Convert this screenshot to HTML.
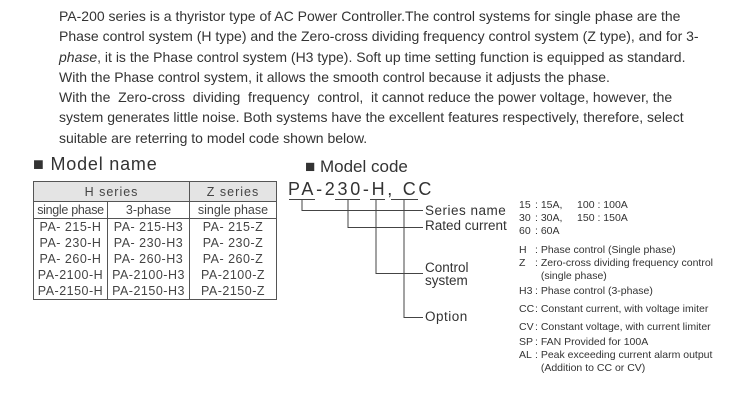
<!DOCTYPE html>
<html><head><style>
body{margin:0;width:738px;height:401px;background:#fff;position:relative;overflow:hidden;font-family:"Liberation Sans",sans-serif;color:#333}
.p{position:absolute;left:59px;top:6px;font-size:14px;line-height:20.3px;width:660px;white-space:nowrap}
.a{position:absolute;white-space:nowrap}
table{position:absolute;left:33px;top:181px;border-collapse:collapse;font-size:12.5px;color:#444}
td{border:1px solid #555;text-align:center;padding:0;height:16px;line-height:16px}
td.n{border-top:none;border-bottom:none;letter-spacing:0.5px}
.r{position:absolute;left:519px;font-size:10.5px;color:#333;white-space:nowrap}
.r b{font-weight:normal;display:inline-block;width:16px}
</style></head><body>
<div class="p">PA-200 series is a thyristor type of AC Power Controller.The control systems for single phase are the<br>Phase control system (H type) and the Zero-cross dividing frequency control system (Z type), and for 3-<br><i>phase</i>, it is the Phase control system (H3 type). Soft up time setting function is equipped as standard.<br>With the Phase control system, it allows the smooth control because it adjusts the phase.<br>With the&nbsp; Zero-cross&nbsp; dividing&nbsp; frequency&nbsp; control,&nbsp; it cannot reduce the power voltage, however, the<br>system generates little noise. Both systems have the excellent features respectively, therefore, select<br>suitable are reterring to model code shown below.</div>

<div class="a" style="left:33px;top:154px;font-size:18px;letter-spacing:0.8px">■ Model name</div>
<table>
<tr style="background:#e4e4e4"><td colspan="2" style="width:155px;height:19px;letter-spacing:1px">H series</td><td style="width:86px;letter-spacing:1px">Z series</td></tr>
<tr><td style="width:73px;height:16px;letter-spacing:-0.3px">single phase</td><td style="width:81px">3-phase</td><td>single phase</td></tr>
<tr><td class="n" style="border-top:1px solid #555">PA- 215-H</td><td class="n" style="border-top:1px solid #555">PA- 215-H3</td><td class="n" style="border-top:1px solid #555">PA- 215-Z</td></tr>
<tr><td class="n">PA- 230-H</td><td class="n">PA- 230-H3</td><td class="n">PA- 230-Z</td></tr>
<tr><td class="n">PA- 260-H</td><td class="n">PA- 260-H3</td><td class="n">PA- 260-Z</td></tr>
<tr><td class="n">PA-2100-H</td><td class="n">PA-2100-H3</td><td class="n">PA-2100-Z</td></tr>
<tr><td class="n" style="border-bottom:1px solid #555">PA-2150-H</td><td class="n" style="border-bottom:1px solid #555">PA-2150-H3</td><td class="n" style="border-bottom:1px solid #555">PA-2150-Z</td></tr>
</table>

<div class="a" style="left:305px;top:157px;font-size:17px">■ Model code</div>
<div class="a" style="left:288px;top:179px;font-size:18px;letter-spacing:2.7px">PA-230-H, CC</div>
<svg width="738" height="401" style="position:absolute;left:0;top:0" fill="none" stroke="#444" stroke-width="1">
<path d="M289 199.5H315M335 199.5H360M370 199.5H385M391 199.5H418"/>
<path d="M302 199V210.5H423M348 199V227.5H423M376 199V273.5H423M404 199V317.5H423"/>
</svg>
<div class="a" style="left:425px;top:203px;font-size:13.5px;letter-spacing:0.5px">Series name</div>
<div class="a" style="left:425px;top:218px;font-size:13.5px">Rated current</div>
<div class="a" style="left:425px;top:261px;font-size:13.5px;line-height:13px">Control<br>system</div>
<div class="a" style="left:425px;top:309px;font-size:13.5px;letter-spacing:0.5px">Option</div>

<div class="r" style="top:199px"><b>15</b>: 15A, &nbsp;&nbsp;&nbsp;&nbsp;100 : 100A</div>
<div class="r" style="top:212px"><b>30</b>: 30A, &nbsp;&nbsp;&nbsp;&nbsp;150 : 150A</div>
<div class="r" style="top:225px"><b>60</b>: 60A</div>
<div class="r" style="top:244px"><b>H</b>: Phase control (Single phase)</div>
<div class="r" style="top:257px"><b>Z</b>: Zero-cross dividing frequency control</div>
<div class="r" style="top:270px"><b></b>&nbsp;&nbsp;(single phase)</div>
<div class="r" style="top:285px"><b>H3</b>: Phase control (3-phase)</div>
<div class="r" style="top:303px"><b>CC</b>: Constant current, with voltage imiter</div>
<div class="r" style="top:321px"><b>CV</b>: Constant voltage, with current limiter</div>
<div class="r" style="top:336px"><b>SP</b>: FAN Provided for 100A</div>
<div class="r" style="top:349px"><b>AL</b>: Peak exceeding current alarm output</div>
<div class="r" style="top:362px"><b></b>&nbsp;&nbsp;(Addition to CC or CV)</div>
</body></html>
